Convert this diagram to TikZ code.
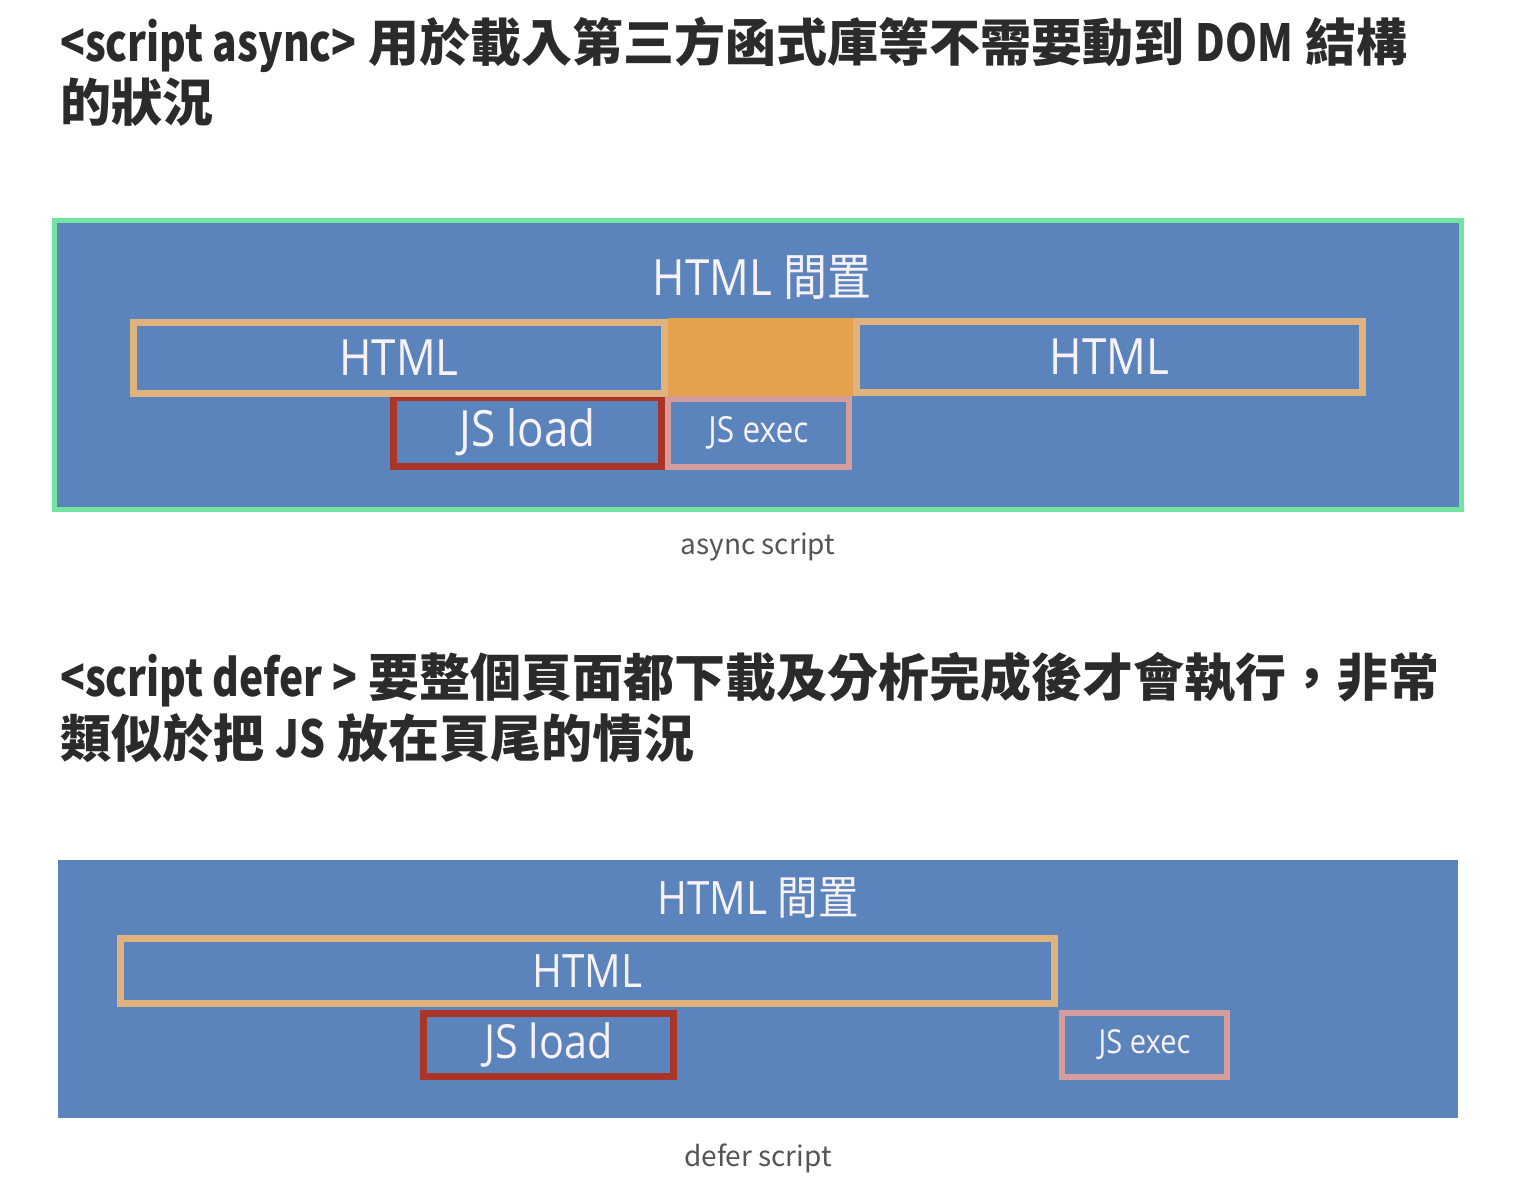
\documentclass[tikz,border=0pt]{standalone}
\usepackage{fontspec}
\setmainfont{Open Sans}
\newfontfamily\cjk{Noto Sans CJK TC}
\usetikzlibrary{positioning}
\definecolor{panelblue}{HTML}{5B84BC}
\definecolor{framegreen}{HTML}{72E3A0}
\definecolor{htmltan}{HTML}{E0B37E}
\definecolor{parseorange}{HTML}{E6A14F}
\definecolor{loadred}{HTML}{AA3428}
\definecolor{execpink}{HTML}{D49C9B}
\definecolor{slottext}{HTML}{F8F2F6}
\definecolor{headgray}{HTML}{2B2B2B}
\definecolor{captiongray}{HTML}{555555}
\newcommand{\squeeze}[1]{\scalebox{0.88}[1]{#1}}
\newcommand{\headlatin}[1]{\scalebox{0.8}[1]{#1}}
\tikzset{timeline/.style={
    x=1pt, y=-1pt,
    panel/.style={rectangle, fill=panelblue, inner sep=0pt, outer sep=0pt},
    slot/.style={rectangle, inner sep=0pt, outer sep=0pt, text=slottext},
    htmlbox/.style={slot, draw=htmltan, line width=7pt},
    loadbox/.style={slot, draw=loadred, line width=7pt},
    execbox/.style={slot, draw=execpink, line width=6pt},
    heading/.style={anchor=base west, inner sep=0pt, text=headgray, font=\cjk\bfseries\fontsize{51}{60}\selectfont},
    figcaption/.style={inner sep=0pt, text=captiongray, font=\cjk\fontsize{28}{34}\selectfont},
}}

\begin{document}
\begin{tikzpicture}[timeline]
    \useasboundingbox[fill=white] (0,0) rectangle (1524,1184);

    % async
    \node[heading] (asynctitle) at (60,61) {\headlatin{<script async>} 用於載入第三方函式庫等不需要動到 \headlatin{DOM} 結構};
    \node[heading] (asynctitlecont) at (60,121) {的狀況};
    \node[panel, draw=framegreen, line width=5pt, minimum width=1407pt, minimum height=289pt] (asyncpanel) at (758,365) {};
    \node[slot, font=\fontsize{50}{58}\selectfont] (asynchead) at (762,277) {\squeeze{HTML {\cjk 間置}}};
    \node[loadbox, minimum width=268pt, minimum height=69pt, font=\fontsize{50}{58}\selectfont] (asyncload) at (527.5,432) {\squeeze{JS load}};
    \node[htmlbox, minimum width=531pt, minimum height=71pt, font=\fontsize{50}{58}\selectfont] (asynchtmla) at (399,358) {\squeeze{HTML}};
    \node[slot, fill=parseorange, minimum width=185pt, minimum height=78pt] (asyncpause) at (760.5,357) {};
    \node[htmlbox, minimum width=506pt, minimum height=71pt, font=\fontsize{50}{58}\selectfont] (asynchtmlb) at (1109.5,357) {\squeeze{HTML}};
    \node[execbox, minimum width=181pt, minimum height=68pt, font=\fontsize{36}{42}\selectfont] (asyncexec) at (758.5,433) {\squeeze{JS exec}};
    \node[figcaption] (asynccap) at (758,547) {async script};

    % defer
    \node[heading] (defertitle) at (60,696) {\headlatin{<script defer >} 要整個頁面都下載及分析完成後才會執行，非常};
    \node[heading] (defertitlecont) at (60,757) {類似於把 \headlatin{JS} 放在頁尾的情況};
    \node[panel, minimum width=1400pt, minimum height=258pt] (deferpanel) at (758,989) {};
    \node[slot, font=\fontsize{46}{54}\selectfont] (deferhead) at (758,898) {\squeeze{HTML {\cjk 間置}}};
    \node[htmlbox, minimum width=934pt, minimum height=65pt, font=\fontsize{46}{54}\selectfont] (deferhtml) at (587.5,971) {\squeeze{HTML}};
    \node[loadbox, minimum width=250pt, minimum height=63pt, font=\fontsize{47}{54}\selectfont] (deferload) at (548.5,1045) {\squeeze{JS load}};
    \node[execbox, minimum width=165pt, minimum height=64pt, font=\fontsize{33}{38}\selectfont] (deferexec) at (1144.5,1045) {\squeeze{JS exec}};
    \node[figcaption] (defercap) at (758,1158) {defer script};
\end{tikzpicture}
\end{document}
